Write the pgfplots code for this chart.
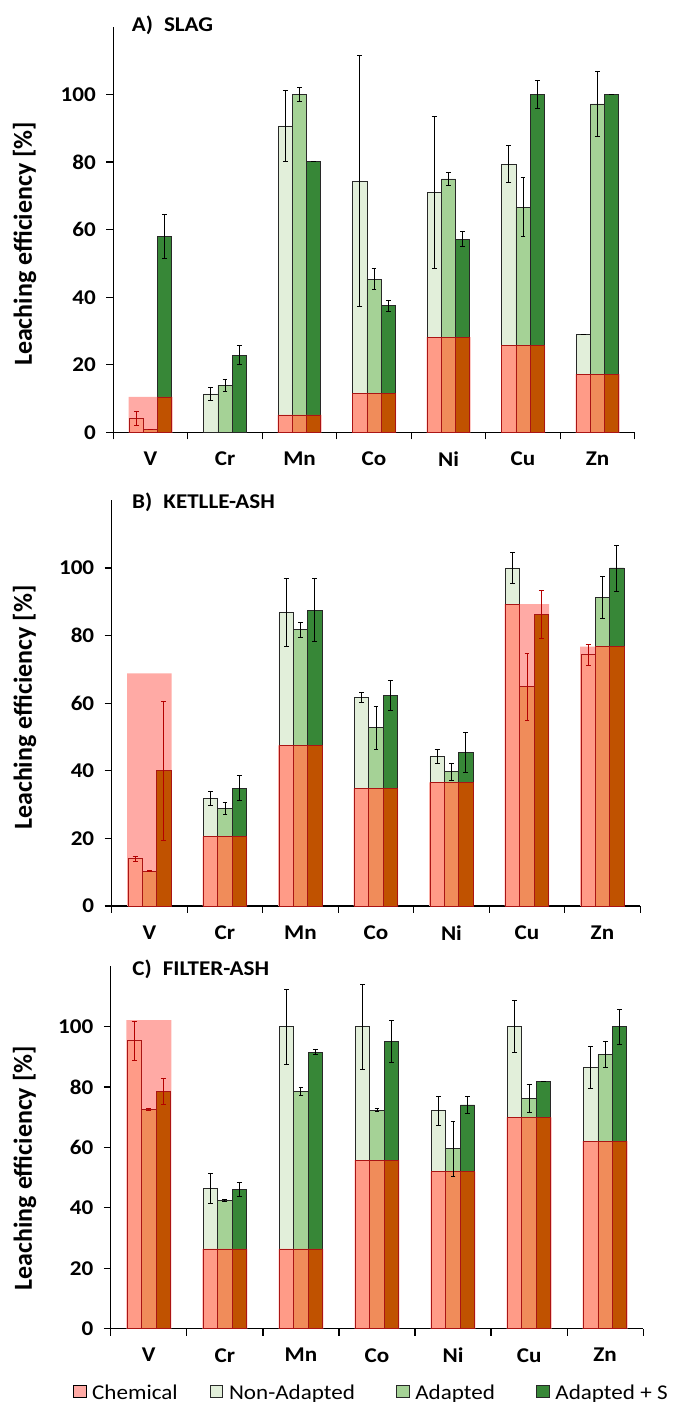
\documentclass[border=0pt]{standalone}
\usepackage{fontspec}
\setmainfont{Carlito}[FakeStretch=1.1]
\newfontfamily\ylabfont{Carlito}
\usepackage{pgfplots}
\usepackage{pgfplotstable}
\pgfplotsset{compat=1.18}

\definecolor{chemC}{RGB}{255,170,165}
\definecolor{naG}{RGB}{226,239,218}
\definecolor{adG}{RGB}{165,210,150}
\definecolor{asG}{RGB}{55,135,55}
\definecolor{naR}{RGB}{255,155,135}
\definecolor{adR}{RGB}{240,140,90}
\definecolor{asR}{RGB}{192,82,0}
\definecolor{edgeR}{RGB}{170,20,20}
\definecolor{errR}{RGB}{180,0,0}
\definecolor{edgeK}{RGB}{40,40,40}

% x: category, na/ad/as: Non-Adapted, Adapted, Adapted+S (with errors), chem: Chemical
\pgfplotstableread{
x na nae ad ade as ase chem
0 4.2 2.1 0.8 0 58.0 6.6 10.5
1 11.4 1.8 14.0 1.8 22.9 2.8 0
2 90.7 10.5 100 2.1 80.1 0 5.2
3 74.4 37.2 45.4 3.1 37.5 1.6 11.6
4 71.0 22.6 75.0 2.0 57.2 2.2 28.2
5 79.4 5.4 66.7 8.8 100 4.2 25.7
6 29.0 0 97.2 9.7 100 0 17.3
}\tabA
\pgfplotstableread{
x na nae ad ade as ase chem
0 14.0 0.7 10.3 0.2 40.0 20.6 68.8
1 31.9 2.1 28.8 1.8 34.8 3.7 20.5
2 86.8 10.1 81.7 2.3 87.5 9.3 47.5
3 61.6 1.5 52.7 6.4 62.2 4.4 34.8
4 44.2 2.0 39.7 2.5 45.3 5.9 36.6
5 100.0 4.6 64.9 9.9 86.3 7.2 89.3
6 74.3 3.1 91.3 6.3 100 6.8 76.7
}\tabB
\pgfplotstableread{
x na nae ad ade as ase chem
0 95.3 6.6 72.7 0.3 78.5 4.3 102.2
1 46.5 5.0 42.4 0.3 46.1 2.3 26.4
2 100 12.4 78.5 1.3 91.6 0.8 26.4
3 100 14.1 72.4 0.5 95.0 7.0 55.8
4 72.2 4.8 59.6 9.1 74.1 2.7 52.0
5 100 8.6 76.3 4.6 81.8 0 70.0
6 86.4 7.0 90.7 4.3 100 5.8 62.1
}\tabC

\pgfplotsset{
  panel/.style={
    scale only axis,
    anchor=south west,
    xmin=-0.5, xmax=6.5, ymin=0, ymax=120,
    axis x line=bottom, axis y line=left,
    axis line style={-, line width=1.2pt, black},
    xtick={0,...,6}, xticklabels={V,Cr,Mn,Co,Ni,Cu,Zn},
    minor xtick={-0.5,0.5,...,6.5},
    ytick={0,20,...,100}, minor ytick={0,20,...,100},
    tick align=outside,
    major tick length=0pt, minor tick length=7pt,
    every minor tick/.style={black, line width=1.2pt},
    /pgf/number format/assume math mode=true,
    tick label style={font=\bfseries\fontsize{21}{21}\selectfont},
    yticklabel style={xshift=-14pt},
    xticklabel style={yshift=-16pt},
    ylabel={Leaching efficiency [\%]},
    ylabel style={anchor=center, font=\ylabfont\bfseries\fontsize{26}{26}\selectfont},
    clip=false,
  },
  gbar/.style={ybar, bar width=0.19, bar shift=#1, draw=edgeK, line width=0.8pt, forget plot},
  rbar/.style={ybar, bar width=0.19, bar shift=#1, draw=edgeR, line width=0.8pt, forget plot},
  errp/.style={draw=none, mark=none, forget plot,
    error bars/.cd, y dir=both, y explicit,
    error bar style={line width=0.9pt, #1},
    error mark options={rotate=90, mark size=2.4pt, line width=0.9pt, #1}},
}

\newcommand\panelbars[1]{%
  % chemical (background box)
  \addplot[ybar, bar width=0.59, bar shift=0, fill=chemC, draw=none, forget plot]
    table[x=x, y expr={\thisrow{chem}>0 ? \thisrow{chem} : nan}]{#1};
  % microbial series
  \addplot[fill=naG, gbar=-0.19] table[x=x, y=na]{#1};
  \addplot[fill=adG, gbar=0] table[x=x, y=ad]{#1};
  \addplot[fill=asG, gbar=0.19] table[x=x, y=as]{#1};
  % part of each bar covered by the chemical box
  \addplot[fill=naR, rbar=-0.19] table[x=x, y expr={\thisrow{chem}>0 ? min(\thisrow{na},\thisrow{chem}) : nan}]{#1};
  \addplot[fill=adR, rbar=0] table[x=x, y expr={\thisrow{chem}>0 ? min(\thisrow{ad},\thisrow{chem}) : nan}]{#1};
  \addplot[fill=asR, rbar=0.19] table[x=x, y expr={\thisrow{chem}>0 ? min(\thisrow{as},\thisrow{chem}) : nan}]{#1};
  % error bars: black above the chemical level, red inside it
  \addplot[errp=black] table[x expr=\thisrow{x}-0.19, y expr={\thisrow{na}<\thisrow{chem} ? nan : \thisrow{na}}, y error=nae]{#1};
  \addplot[errp=black] table[x expr=\thisrow{x}, y expr={\thisrow{ad}<\thisrow{chem} ? nan : \thisrow{ad}}, y error=ade]{#1};
  \addplot[errp=black] table[x expr=\thisrow{x}+0.19, y expr={\thisrow{as}<\thisrow{chem} ? nan : \thisrow{as}}, y error=ase]{#1};
  \addplot[errp=errR] table[x expr=\thisrow{x}-0.19, y expr={\thisrow{na}<\thisrow{chem} ? \thisrow{na} : nan}, y error=nae]{#1};
  \addplot[errp=errR] table[x expr=\thisrow{x}, y expr={\thisrow{ad}<\thisrow{chem} ? \thisrow{ad} : nan}, y error=ade]{#1};
  \addplot[errp=errR] table[x expr=\thisrow{x}+0.19, y expr={\thisrow{as}<\thisrow{chem} ? \thisrow{as} : nan}, y error=ase]{#1};
}

\begin{document}
\begin{tikzpicture}
\path[use as bounding box] (0pt,0pt) rectangle (673pt,1402pt);

\begin{axis}[panel, at={(113.3pt,969.5pt)}, width=521.5pt, height=405.6pt,
  ylabel style={at={(axis description cs:-0.170,0.465)}}]
  \panelbars{\tabA}
  \node[anchor=base west, font=\bfseries\fontsize{21}{21}\selectfont, xshift=15pt, yshift=-5pt]
    at (rel axis cs:0,1) {A)\hspace{11pt}SLAG};
\end{axis}

\begin{axis}[panel, at={(111.7pt,496pt)}, width=528.5pt, height=405.6pt,
  ylabel style={at={(axis description cs:-0.165,0.489)}}]
  \panelbars{\tabB}
  \node[anchor=base west, font=\bfseries\fontsize{21}{21}\selectfont, xshift=17pt, yshift=-8pt]
    at (rel axis cs:0,1) {B)\hspace{11pt}KETLLE-ASH};
\end{axis}

\begin{axis}[panel, at={(110.8pt,73.3pt)}, width=532.4pt, height=362.4pt,
  ylabel style={at={(axis description cs:-0.162,0.443)}},
  legend columns=4,
  legend style={at={(axis description cs:-0.071,-0.176)}, anchor=west, draw=none, fill=none,
    inner sep=0pt, font=\fontsize{21}{21}\selectfont,
    /tikz/every odd column/.append style={column sep=4pt},
    /tikz/column 2/.append style={column sep=30pt},
    /tikz/column 4/.append style={column sep=39pt},
    /tikz/column 6/.append style={column sep=39pt}},
  legend image code/.code={\draw[#1] (0pt,-5pt) rectangle (12.5pt,7.5pt);},
  ]
  \panelbars{\tabC}
  \node[anchor=base west, font=\bfseries\fontsize{21}{21}\selectfont, xshift=18pt, yshift=-9pt]
    at (rel axis cs:0,1) {C)\hspace{11pt}FILTER-ASH};
  \addlegendimage{fill=chemC, draw=none}
  \addlegendimage{fill=naG, draw=edgeK, line width=0.8pt}
  \addlegendimage{fill=adG, draw=edgeK, line width=0.8pt}
  \addlegendimage{fill=asG, draw=edgeK, line width=0.8pt}
  \legend{Chemical, Non-Adapted, Adapted, Adapted + S}
\end{axis}
\end{tikzpicture}
\end{document}
